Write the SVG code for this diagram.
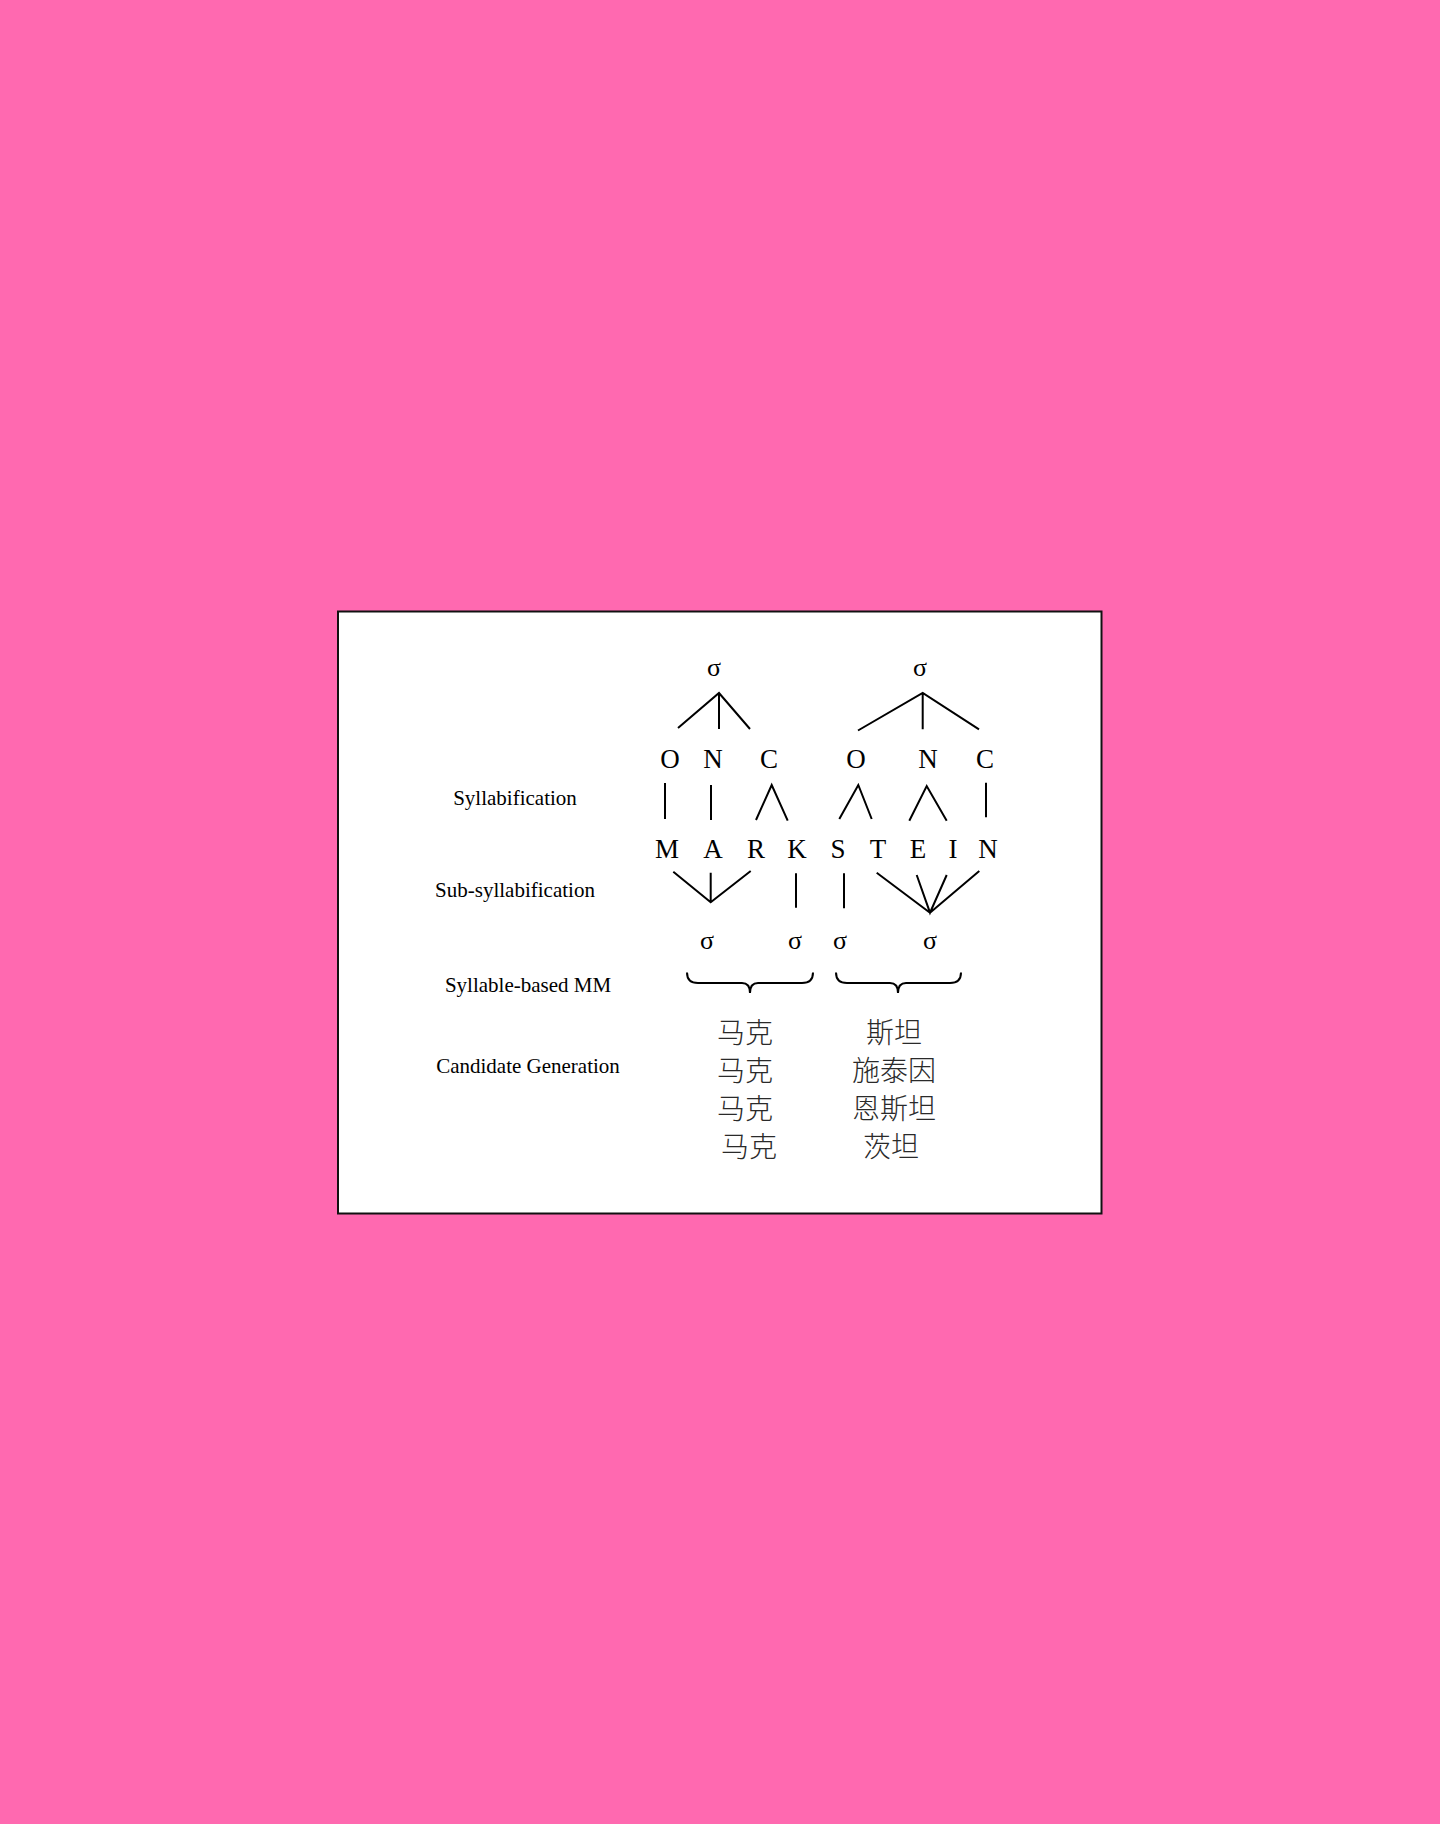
<svg xmlns="http://www.w3.org/2000/svg" width="1440" height="1824" viewBox="0 0 1440 1824">
<style>
.lbl{font-family:"Liberation Serif","Times New Roman",serif;font-size:21px;fill:#000;text-anchor:middle}
.let{font-family:"Liberation Serif","Times New Roman",serif;font-size:27px;fill:#000;text-anchor:middle}
.sig{font-family:"Liberation Serif","Times New Roman",serif;font-size:26px;fill:#000;text-anchor:middle}
.cjk{font-family:"Liberation Serif","Noto Sans CJK SC",serif;font-size:28px;font-weight:300;fill:#2a2a2a;text-anchor:middle}
.ln{stroke:#000;stroke-width:2;fill:none;stroke-linecap:butt}
</style>
<rect x="0" y="0" width="1440" height="1824" fill="#FF69B0"/>
<rect id="frame" x="338" y="611.5" width="763.5" height="602" fill="#fff" stroke="#111" stroke-width="2"/>

<g id="labels">
<text class="lbl" x="515" y="805">Syllabification</text>
<text class="lbl" x="515" y="897">Sub-syllabification</text>
<text class="lbl" x="528" y="992">Syllable-based MM</text>
<text class="lbl" x="528" y="1073">Candidate Generation</text>
</g>

<g id="sigma-top">
<text class="sig" x="714" y="676">σ</text>
<text class="sig" x="920" y="676">σ</text>
</g>

<g id="onc">
<text class="let" x="670" y="768">O</text>
<text class="let" x="713" y="768">N</text>
<text class="let" x="769" y="768">C</text>
<text class="let" x="856" y="768">O</text>
<text class="let" x="928" y="768">N</text>
<text class="let" x="985" y="768">C</text>
</g>

<g id="letters">
<text class="let" x="667" y="858">M</text>
<text class="let" x="713" y="858">A</text>
<text class="let" x="756" y="858">R</text>
<text class="let" x="797" y="858">K</text>
<text class="let" x="838" y="858">S</text>
<text class="let" x="878" y="858">T</text>
<text class="let" x="918" y="858">E</text>
<text class="let" x="953" y="858">I</text>
<text class="let" x="988" y="858">N</text>
</g>

<g id="sigma-bottom">
<text class="sig" x="707" y="949">σ</text>
<text class="sig" x="795" y="949">σ</text>
<text class="sig" x="840" y="949">σ</text>
<text class="sig" x="930" y="949">σ</text>
</g>

<g id="candidates">
<text class="cjk" x="745" y="1043">马克</text>
<text class="cjk" x="745" y="1081">马克</text>
<text class="cjk" x="745" y="1119">马克</text>
<text class="cjk" x="749" y="1157">马克</text>
<text class="cjk" x="894" y="1043">斯坦</text>
<text class="cjk" x="894" y="1081">施泰因</text>
<text class="cjk" x="894" y="1119">恩斯坦</text>
<text class="cjk" x="891" y="1157">茨坦</text>
</g>

<g id="connectors">
<path class="ln" d="M678 728 L719 693 L750 729 M719 693 L719 729"/>
<path class="ln" d="M858 730.5 L922.7 693 L979 729.3 M922.7 693 L922.7 729.3"/>
<path class="ln" d="M665 783 L665 819"/>
<path class="ln" d="M711 785 L711 820"/>
<path class="ln" d="M756 820 L771.7 785 L787.7 820.7"/>
<path class="ln" d="M839.3 819 L858.3 785 L871.7 819"/>
<path class="ln" d="M909.3 820.7 L926.7 786 L946.7 820.7"/>
<path class="ln" d="M986 782.7 L986 817.3"/>
<path class="ln" d="M673.3 871.7 L710.7 902.3 L750.7 871 M710.7 872.7 L710.7 902.3"/>
<path class="ln" d="M796 873.3 L796 907.7"/>
<path class="ln" d="M844 873.3 L844 908.3"/>
<path class="ln" d="M876.7 872.7 L930 912.7 L979.3 871 M916.7 875 L930 912.7 L946.7 875"/>
<path class="ln" d="M687 972.5 Q687 983 698 983 L742 983 Q750 983 750 993 Q750 983 758 983 L802 983 Q813 983 813 972.5"/>
<path class="ln" d="M836 972.5 Q836 983 847 983 L890 983 Q898 983 898 993 Q898 983 906 983 L950 983 Q961 983 961 972.5"/>
</g>
</svg>
